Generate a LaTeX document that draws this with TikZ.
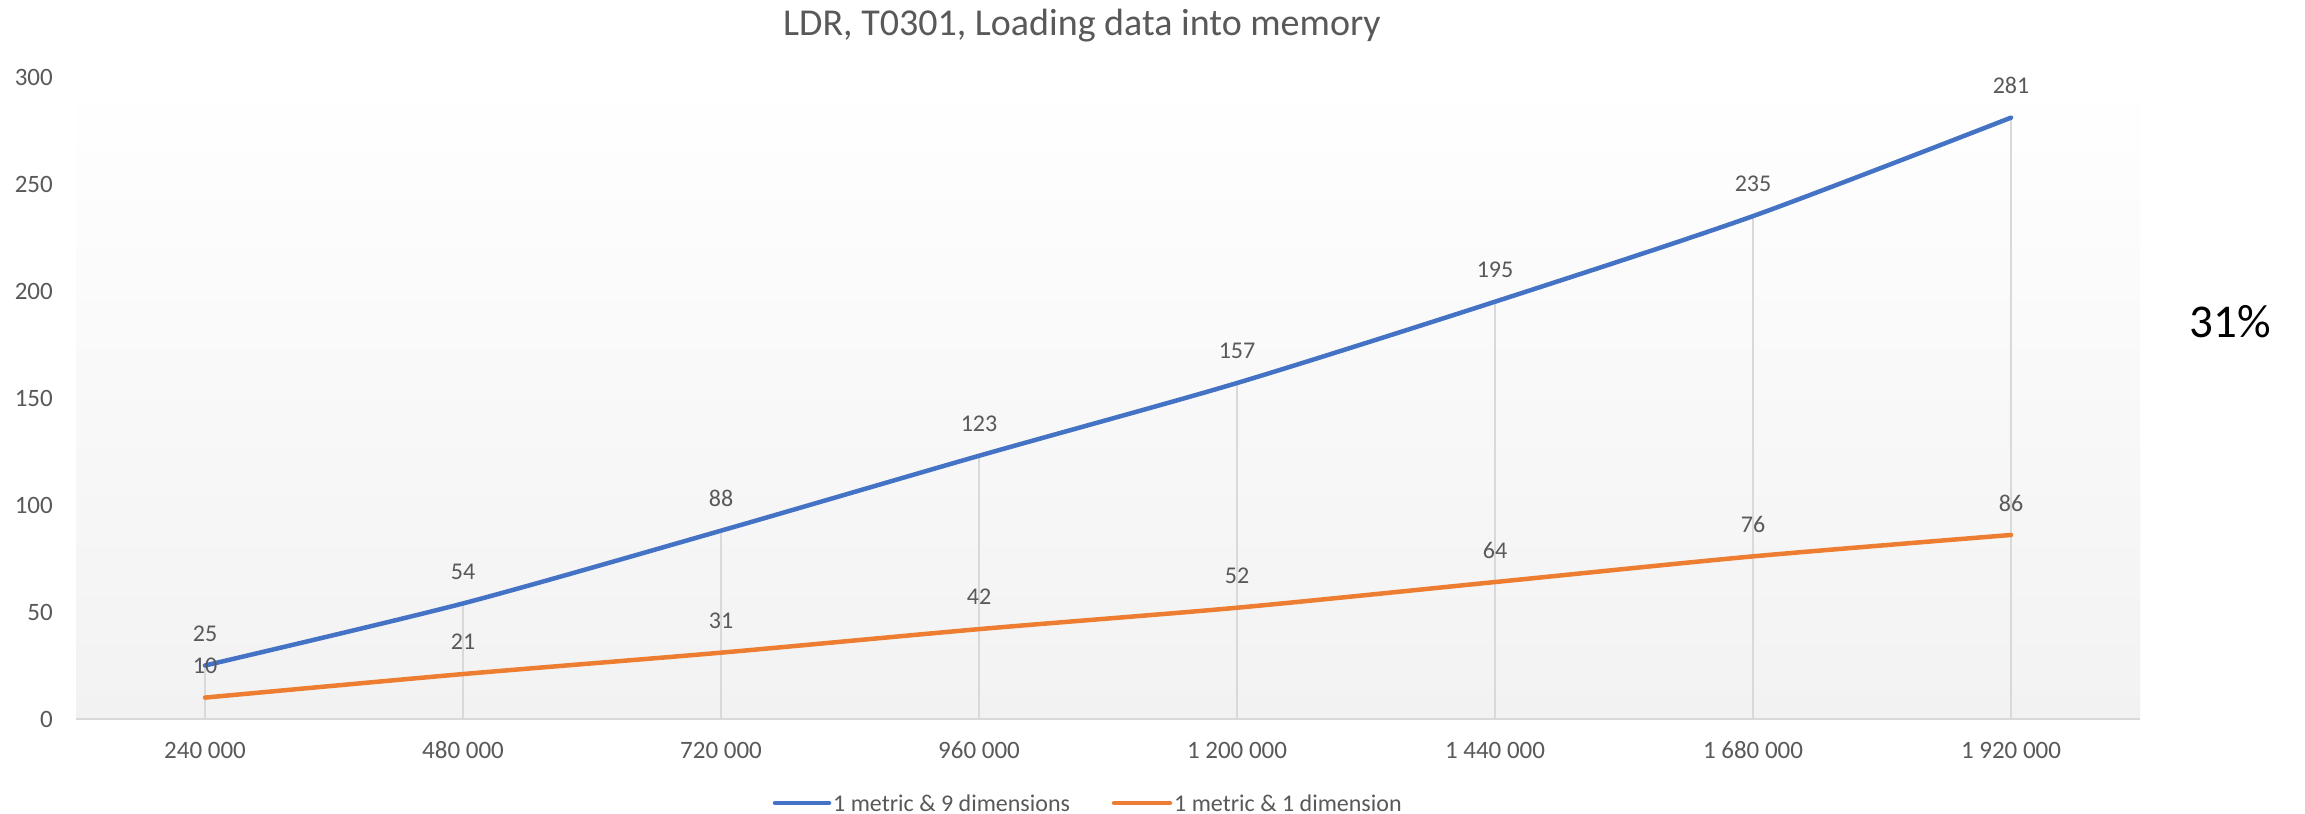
\documentclass[tikz,border=0pt]{standalone}
\usepackage{fontspec}
\setmainfont{Carlito}
\usetikzlibrary{calc}
\definecolor{serblue}{HTML}{4472C4}
\definecolor{serorange}{HTML}{ED7D31}
\definecolor{gridgray}{HTML}{D9D9D9}
\definecolor{txtgray}{HTML}{595959}
\definecolor{plotbot}{HTML}{F2F2F2}
\begin{document}
\begin{tikzpicture}[x=1bp,y=-1bp,
  ticklab/.style={text=txtgray, font=\fontsize{25bp}{30bp}\selectfont, inner sep=0pt},
  datalab/.style={text=txtgray, font=\fontsize{24bp}{29bp}\selectfont, inner sep=0pt},
  legtext/.style={text=txtgray, font=\fontsize{24bp}{29bp}\selectfont, inner sep=0pt, anchor=west},
  series/.style={line width=4.5bp, line cap=round, line join=round},
  dropline/.style={draw=gridgray, line width=1.5bp},
  axisline/.style={draw=gridgray, line width=2bp}]
\useasboundingbox[fill=white] (0,0) rectangle (2305,813);
% plot area
\shade[top color=white, bottom color=plotbot] (76,77) rectangle (2140,719);
\coordinate (axL) at (76,719);
\coordinate (axR) at (2140,719);
% data points
\foreach \v [count=\i from 0] in {25,54,88,123,157,195,235,281}
  \coordinate (b\i) at ({205+258*\i},{719-2.14*\v});
\foreach \v [count=\i from 0] in {10,21,31,42,52,64,76,86}
  \coordinate (o\i) at ({205+258*\i},{719-2.14*\v});
% drop lines
\foreach \i in {0,...,7}
  \draw[dropline] (b\i) -- (b\i |- axL);
\draw[axisline] (axL) -- (axR);
% series
\draw[series, serblue] plot[smooth, tension=0.45] coordinates {(b0) (b1) (b2) (b3) (b4) (b5) (b6) (b7)};
\draw[series, serorange] plot[smooth, tension=0.45] coordinates {(o0) (o1) (o2) (o3) (o4) (o5) (o6) (o7)};
% data labels
\foreach \v [count=\i from 0] in {25,54,88,123,157,195,235,281}
  \node[datalab] (lb\i) at ([yshift=32bp]b\i) {\v};
\foreach \v [count=\i from 0] in {10,21,31,42,52,64,76,86}
  \node[datalab] (lo\i) at ([yshift=32bp]o\i) {\v};
% y axis labels
\foreach \v in {0,50,100,150,200,250,300}
  \node[ticklab, anchor=east] (y\v) at (53,{719-2.14*\v}) {\v};
% x axis labels
\foreach \t [count=\i from 0] in {240 000,480 000,720 000,960 000,1 200 000,1 440 000,1 680 000,1 920 000}
  \node[ticklab] (x\i) at ({205+258*\i},750) {\t};
% title
\node[text=txtgray, font=\fontsize{38bp}{46bp}\selectfont, inner sep=0pt, anchor=base] (title) at (1082,36) {LDR, T0301, Loading data into memory};
% legend
\coordinate (lbA) at (775,803);
\coordinate (lbB) at (829,803);
\draw[series, serblue] (lbA) -- (lbB);
\node[legtext] (legb) at (833,803) {1 metric \& 9 dimensions};
\coordinate (loA) at (1114,803);
\coordinate (loB) at (1170,803);
\draw[series, serorange] (loA) -- (loB);
\node[legtext] (lego) at (1174,803) {1 metric \& 1 dimension};
% side note
\node[font=\fontsize{47bp}{56bp}\selectfont, inner sep=0pt] (pct) at (2230,322) {31\%};
\end{tikzpicture}
\end{document}
